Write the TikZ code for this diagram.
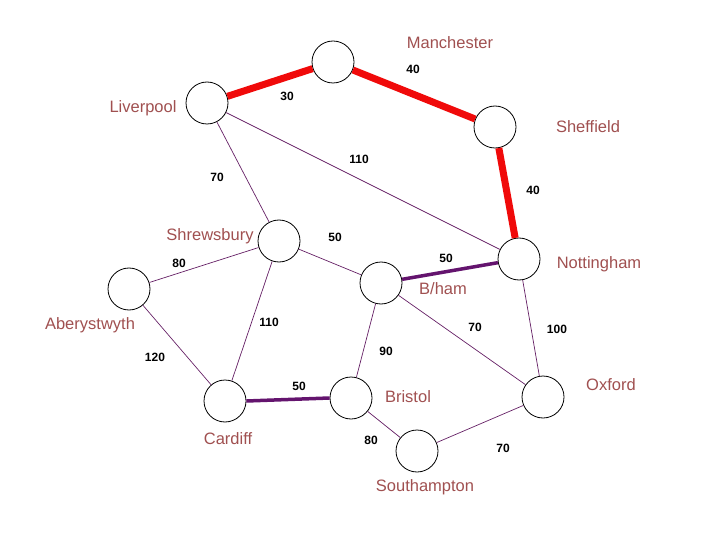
\documentclass[tikz,border=0pt]{standalone}
\usepackage{fontspec}
\setmainfont{Liberation Sans}
\definecolor{namecol}{RGB}{160,80,80}
\definecolor{edgecol}{RGB}{100,30,100}
\definecolor{purp}{RGB}{100,20,110}
\definecolor{redcol}{RGB}{240,10,10}
\begin{document}
\begin{tikzpicture}[x=1pt,y=-1pt,
  city/.style={circle,draw=black,line width=0.8pt,fill=white,minimum size=42pt,inner sep=0pt},
  cityname/.style={text=namecol,font=\fontsize{16.5}{19}\selectfont,inner sep=0pt},
  dist/.style={font=\bfseries\fontsize{12}{14}\selectfont,inner sep=0pt},
  thinedge/.style={draw=edgecol,line width=0.7pt},
  thickedge/.style={draw=purp,line width=3.5pt},
  rededge/.style={draw=redcol,line width=7pt}]
\useasboundingbox (0,0) rectangle (720,540);
% nodes
\node[city] (man) at (333,62) {};
\node[city] (liv) at (207,103) {};
\node[city] (she) at (495,127) {};
\node[city] (not) at (519,259) {};
\node[city] (shr) at (279,241) {};
\node[city] (abe) at (129,289) {};
\node[city] (bha) at (381,283) {};
\node[city] (oxf) at (543,397) {};
\node[city] (bri) at (351,398) {};
\node[city] (sou) at (417,451) {};
\node[city] (car) at (225,401) {};
% edges
\draw[rededge] (liv) -- (man);
\draw[rededge] (man) -- (she);
\draw[rededge] (she) -- (not);
\draw[thinedge] (liv) -- (shr);
\draw[thinedge] (liv) -- (not);
\draw[thinedge] (shr) -- (bha);
\draw[thinedge] (shr) -- (abe);
\draw[thinedge] (shr) -- (car);
\draw[thinedge] (abe) -- (car);
\draw[thickedge] (bha) -- (not);
\draw[thinedge] (bha) -- (bri);
\draw[thinedge] (bha) -- (oxf);
\draw[thinedge] (not) -- (oxf);
\draw[thickedge] (car.east) -- (bri.west);
\draw[thinedge] (bri) -- (sou);
\draw[thinedge] (sou) -- (oxf);
% names
\node[cityname] (tman) at (450,43) {Manchester};
\node[cityname] (tliv) at (143,108) {Liverpool};
\node[cityname] (tshe) at (588,127) {Sheffield};
\node[cityname] (tshr) at (210,236) {Shrewsbury};
\node[cityname] (tnot) at (599,264) {Nottingham};
\node[cityname] (tbha) at (443,289) {B/ham};
\node[cityname] (tabe) at (90,325) {Aberystwyth};
\node[cityname] (tbri) at (408,397) {Bristol};
\node[cityname] (toxf) at (611,385) {Oxford};
\node[cityname] (tcar) at (228,439) {Cardiff};
\node[cityname] (tsou) at (425,487) {Southampton};
% distances
\node[dist] (d1) at (413,69) {40};
\node[dist] (d2) at (287,96) {30};
\node[dist] (d3) at (359,159) {110};
\node[dist] (d4) at (217,177) {70};
\node[dist] (d5) at (533,190) {40};
\node[dist] (d6) at (335,237) {50};
\node[dist] (d7) at (179,263) {80};
\node[dist] (d8) at (446,258) {50};
\node[dist] (d9) at (269,322) {110};
\node[dist] (d10) at (475,327) {70};
\node[dist] (d11) at (557,329) {100};
\node[dist] (d12) at (155,357) {120};
\node[dist] (d13) at (386,351) {90};
\node[dist] (d14) at (299,386) {50};
\node[dist] (d15) at (371,440) {80};
\node[dist] (d16) at (503,448) {70};
\end{tikzpicture}
\end{document}
